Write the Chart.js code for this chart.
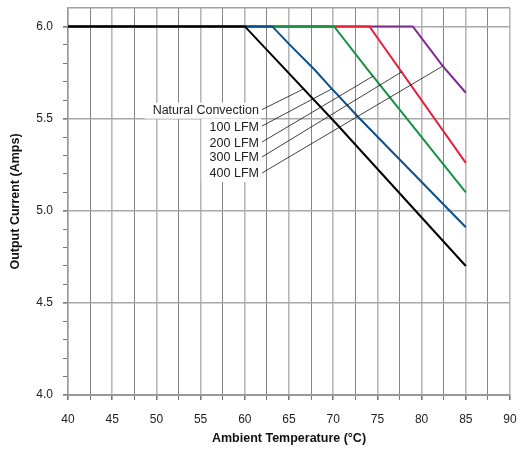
<!DOCTYPE html>
<html><head><meta charset="utf-8">
<script src="https://cdn.jsdelivr.net/npm/chart.js@4"></script>
<style>html,body{margin:0;padding:0;background:#fff;}</style>
</head><body>
<canvas id="c" width="519" height="450"></canvas>
<script>
// ---- data ----
const seriesNames = ['Natural Convection', '100 LFM', '200 LFM', '300 LFM', '400 LFM'];
const tempNatural = [40, 60, 70.2, 85];
const ampsNatural = [6.0, 6.0, 5.48, 4.70];
const temp100 = [40, 63.1, 65.1, 67.9, 69.6, 72.8, 85];
const amps100 = [6.0, 6.0, 5.90, 5.765, 5.675, 5.51, 4.91];
const temp200 = [40, 70.1, 73.9, 85];
const amps200 = [6.0, 6.0, 5.765, 5.10];
const temp300 = [40, 74.1, 85];
const amps300 = [6.0, 6.0, 5.26];
const temp400 = [40, 79.0, 82.4, 85];
const amps400 = [6.0, 6.0, 5.785, 5.64];
const xTickValues = [40, 45, 50, 55, 60, 65, 70, 75, 80, 85, 90];
const yTickValues = [4.0, 4.5, 5.0, 5.5, 6.0];
// callout label anchors (data coordinates)
const labelAmps = [5.543, 5.454, 5.367, 5.286, 5.199];
const labelTemp = 61.6;
const leaderTemp = [66.6, 69.8, 74.5, 77.8, 82.4];
const leaderAmps = [5.66, 5.66, 5.73, 5.755, 5.785];

const colors = ['#000000', '#0d4f8b', '#179245', '#e8203c', '#7d2a8e'];
const temps = [tempNatural, temp100, temp200, temp300, temp400];
const amps = [ampsNatural, amps100, amps200, amps300, amps400];

const datasets = seriesNames.map((n, i) => ({
  label: n,
  data: temps[i].map((t, j) => ({x: t, y: amps[i][j]})),
  borderColor: colors[i],
  borderWidth: 2,
  pointRadius: 0,
  fill: false,
  tension: 0
}));

const FONT = "'Liberation Sans', Arial, sans-serif";

const calloutPlugin = {
  id: 'callouts',
  afterDatasetsDraw(chart) {
    const ctx = chart.ctx, xs = chart.scales.x, ys = chart.scales.y;
    ctx.save();
    ctx.font = '12.5px ' + FONT;
    const right = xs.getPixelForValue(labelTemp);
    seriesNames.forEach((n, i) => {
      const y = ys.getPixelForValue(labelAmps[i]);
      const w = ctx.measureText(n).width;
      ctx.fillStyle = '#fff';
      ctx.fillRect(right - w - 8, y - 8, w + 10, 16);
    });
    seriesNames.forEach((n, i) => {
      const y = ys.getPixelForValue(labelAmps[i]);
      ctx.fillStyle = '#222';
      ctx.textAlign = 'right';
      ctx.textBaseline = 'middle';
      ctx.fillText(n, right, y);
      ctx.strokeStyle = '#111';
      ctx.lineWidth = 0.8;
      ctx.beginPath();
      ctx.moveTo(right + 3, y - 1);
      ctx.lineTo(xs.getPixelForValue(leaderTemp[i]), ys.getPixelForValue(leaderAmps[i]));
      ctx.stroke();
    });
    ctx.restore();
  }
};

const r10 = v => Math.round(v * 10);
const r4 = v => Math.round(v * 4);
const noPad = s => { s.paddingTop = 0; s.paddingBottom = 0; s.paddingLeft = 0; s.paddingRight = 0; };

new Chart(document.getElementById('c'), {
  type: 'line',
  data: { datasets },
  plugins: [calloutPlugin],
  options: {
    responsive: false,
    devicePixelRatio: 1,
    animation: false,
    layout: { padding: { top: 8, right: 9, left: 0, bottom: 0 } },
    plugins: { legend: { display: false }, tooltip: { enabled: false } },
    scales: {
      x: {
        type: 'linear',
        min: 40, max: 90,
        afterFit: s => { s.height = 55; noPad(s); },
        ticks: {
          stepSize: 2.5, autoSkip: false, maxRotation: 0, padding: 12,
          color: '#222', font: { family: FONT, size: 12 },
          callback: v => xTickValues.includes(v) ? String(v) : ''
        },
        grid: {
          tickLength: 5,
          color: c => (r4(c.tick.value) % 20 === 0 ? '#b8b8b8' : '#858585'),
          lineWidth: c => (r4(c.tick.value) % 20 === 0 ? 1.6 : 1),
          tickColor: '#777'
        },
        border: { color: '#999', width: 2 },
        title: {
          display: true, text: 'Ambient Temperature (°C)', color: '#111',
          font: { family: FONT, size: 12.5, weight: 'bold' },
          padding: { top: 0, bottom: 4 }
        }
      },
      y: {
        type: 'linear',
        min: 4.0, max: 6.1,
        afterFit: s => { s.width = 68; noPad(s); },
        ticks: {
          stepSize: 0.1, autoSkip: false, padding: 10,
          color: '#222', font: { family: FONT, size: 12 },
          callback: v => yTickValues.some(t => r10(t) === r10(v)) ? (r10(v) / 10).toFixed(1) : ''
        },
        grid: {
          tickLength: 5,
          color: c => (r10(c.tick.value) === 61 ? '#a0a0a0' : (r10(c.tick.value) % 5 === 0 ? '#a8a8a8' : 'rgba(0,0,0,0)')),
          lineWidth: c => (r10(c.tick.value) % 5 === 0 || r10(c.tick.value) === 61 ? 1.6 : 1),
          tickColor: c => (r10(c.tick.value) === 61 ? 'rgba(0,0,0,0)' : '#777')
        },
        border: { color: '#999', width: 1.5 },
        title: {
          display: true, text: 'Output Current (Amps)', color: '#111',
          font: { family: FONT, size: 12.5, weight: 'bold' },
          padding: { top: 8, bottom: 0 }
        }
      }
    }
  }
});
</script>
</body></html>
